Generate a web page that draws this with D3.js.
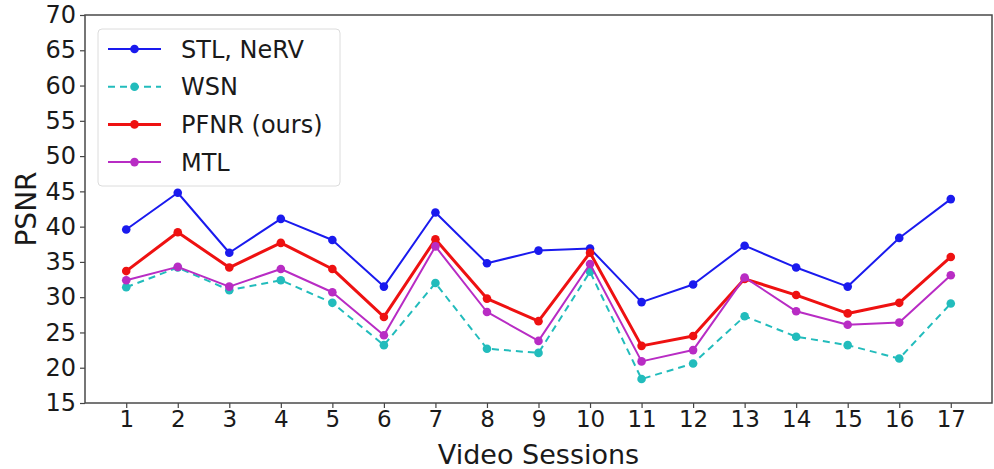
<!DOCTYPE html>
<html>
<head>
<meta charset="utf-8">
<script src="https://cdn.jsdelivr.net/npm/d3@7"></script>
<style>
  html, body { margin: 0; padding: 0; background: #fff; }
  svg { display: block; font-family: "DejaVu Sans", sans-serif; }
</style>
</head>
<body>
<svg id="chart" width="994" height="469"></svg>
<script>
const sessions = [1,2,3,4,5,6,7,8,9,10,11,12,13,14,15,16,17];
const stlNerv = [39.6,44.8,36.3,41.1,38.1,31.5,42.0,34.8,36.6,36.9,29.3,31.8,37.3,34.2,31.5,38.4,43.9];
const wsn     = [31.4,34.2,31.0,32.4,29.2,23.2,32.0,22.7,22.1,33.6,18.4,20.6,27.3,24.4,23.2,21.3,29.1];
const pfnr    = [33.7,39.2,34.2,37.7,34.0,27.2,38.2,29.8,26.6,36.3,23.1,24.5,32.6,30.3,27.7,29.2,35.7];
const mtl     = [32.4,34.3,31.5,34.0,30.7,24.6,37.2,27.9,23.8,34.7,20.9,22.5,32.8,28.0,26.1,26.4,33.1];
const yTicks = [15,20,25,30,35,40,45,50,55,60,65,70];
const seriesNames = ["STL, NeRV","WSN","PFNR (ours)","MTL"];

const series = [
  {name: seriesNames[0], values: stlNerv, color: "#1a1aee", width: 2, dash: null},
  {name: seriesNames[1], values: wsn,     color: "#22bcbc", width: 2, dash: "7,5"},
  {name: seriesNames[2], values: pfnr,    color: "#ee1111", width: 3, dash: null},
  {name: seriesNames[3], values: mtl,     color: "#b82cc4", width: 2, dash: null}
];

const svg = d3.select("#chart");
const L = 85, R = 992, T = 15, B = 403;

const x = d3.scaleLinear().domain([0.2, 17.8]).range([L, R]);
const y = d3.scaleLinear().domain([15, 70]).range([B, T]);

const xAxis = d3.axisBottom(x).tickValues(sessions).tickFormat(d3.format("d")).tickSize(5).tickPadding(3);
const yAxis = d3.axisLeft(y).tickValues(yTicks).tickFormat(d3.format("d")).tickSize(5).tickPadding(4);

const gx = svg.append("g").attr("transform", `translate(0,${B})`).call(xAxis);
const gy = svg.append("g").attr("transform", `translate(${L},0)`).call(yAxis);
[gx, gy].forEach(g => {
  g.select(".domain").remove();
  g.selectAll(".tick line").attr("stroke", "#444").attr("stroke-width", 1.2);
  g.selectAll(".tick text").attr("fill", "#1a1a1a").style("font-size", "23px")
    .style("font-family", "'DejaVu Sans', sans-serif");
});
gy.selectAll(".tick text").style("font-size", "24px");

const line = d3.line().x((d, i) => x(sessions[i])).y(d => y(d));
series.forEach(s => {
  svg.append("path").datum(s.values)
    .attr("d", line).attr("fill", "none")
    .attr("stroke", s.color).attr("stroke-width", s.width)
    .attr("stroke-dasharray", s.dash).attr("stroke-linejoin", "round");
  svg.append("g").selectAll("circle").data(s.values).join("circle")
    .attr("cx", (d, i) => x(sessions[i])).attr("cy", d => y(d))
    .attr("r", 4.3).attr("fill", s.color);
});

svg.append("rect").attr("x", L).attr("y", T).attr("width", R - L).attr("height", B - T)
  .attr("fill", "none").attr("stroke", "#4a4a4a").attr("stroke-width", 1.5);

const lg = svg.append("g");
lg.append("rect").attr("x", 98).attr("y", 29).attr("width", 242).attr("height", 157)
  .attr("rx", 4).attr("fill", "#fff").attr("fill-opacity", 0.85)
  .attr("stroke", "#dcdcdc").attr("stroke-width", 1);
series.forEach((s, i) => {
  const yy = 49 + i * 37.7;
  lg.append("line").attr("x1", 108).attr("x2", 161).attr("y1", yy).attr("y2", yy)
    .attr("stroke", s.color).attr("stroke-width", s.width).attr("stroke-dasharray", s.dash);
  lg.append("circle").attr("cx", 134.5).attr("cy", yy).attr("r", 4.3).attr("fill", s.color);
  lg.append("text").attr("x", 181).attr("y", yy).attr("dy", "0.36em")
    .style("font-size", "24px").attr("fill", "#1a1a1a").text(s.name);
});

svg.append("text").attr("x", (L + R) / 2).attr("y", 464).attr("text-anchor", "middle")
  .style("font-size", "27px").attr("fill", "#1a1a1a").text("Video Sessions");
svg.append("text").attr("transform", `translate(36,${(T + B) / 2}) rotate(-90)`)
  .attr("text-anchor", "middle").style("font-size", "28px").attr("fill", "#1a1a1a").text("PSNR");
</script>
</body>
</html>
